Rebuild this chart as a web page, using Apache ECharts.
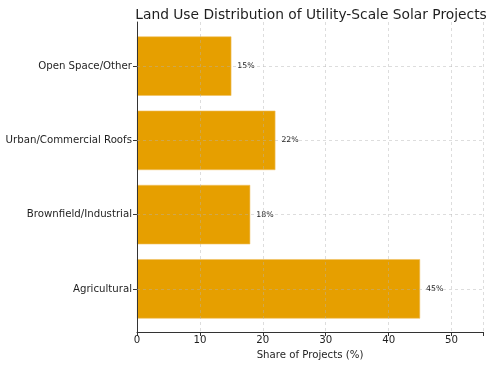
<!DOCTYPE html>
<html>
<head>
<meta charset="utf-8">
<script src="https://cdn.jsdelivr.net/npm/echarts@6/dist/echarts.min.js"></script>
<style>html,body{margin:0;padding:0;background:#fff}#c{width:492px;height:365px}</style>
</head>
<body>
<div id="c"></div>
<script>
const categories = ['Agricultural', 'Brownfield/Industrial', 'Urban/Commercial Roofs', 'Open Space/Other'];
const shares = [45, 18, 22, 15];
const xTicks = [0, 10, 20, 30, 40, 50];

const chart = echarts.init(document.getElementById('c'), null, {renderer: 'canvas'});
const font = 'DejaVu Sans';
const txt = '#1f1f1f';
chart.setOption({
  animation: false,
  title: {
    text: 'Land Use Distribution of Utility-Scale Solar Projects',
    left: 306, top: 3, textAlign: 'center',
    textStyle: {fontFamily: font, fontSize: 13.8, fontWeight: 'normal', color: txt}
  },
  grid: [
    {left: 137, right: 9, top: 22, bottom: 33, containLabel: false, outerBoundsMode: 'none'},
    {left: 137, right: 9, top: 29, bottom: 39, containLabel: false, outerBoundsMode: 'none'}
  ],
  xAxis: [
    {
      type: 'value', gridIndex: 0, min: 0, max: 55, interval: 10, z: 3,
      name: 'Share of Projects (%)', nameLocation: 'middle', nameGap: 18,
      nameTextStyle: {fontFamily: font, fontSize: 10.2, color: txt},
      axisLine: {show: true, lineStyle: {color: '#333', width: 1}},
      axisTick: {show: true, length: 4, lineStyle: {color: '#333'}},
      axisLabel: {fontFamily: font, fontSize: 10.2, color: txt, margin: 3,
        formatter: v => xTicks.includes(v) ? String(v) : ''},
      splitLine: {show: true, lineStyle: {color: 'rgba(176,176,176,0.55)', type: [3, 3], width: 0.8}}
    },
    {
      type: 'value', gridIndex: 1, min: 0, max: 55, show: false
    }
  ],
  yAxis: [
    {
      type: 'value', gridIndex: 0, min: 0, max: 1, z: 3,
      axisLine: {show: true, lineStyle: {color: '#333', width: 1}},
      axisTick: {show: false}, axisLabel: {show: false}, splitLine: {show: false}
    },
    {
      type: 'category', gridIndex: 1, data: categories,
      axisLine: {show: false},
      axisTick: {show: true, alignWithLabel: true, length: 4, lineStyle: {color: '#333'}},
      axisLabel: {fontFamily: font, fontSize: 10.2, color: txt, margin: 5},
      splitLine: {show: false}
    }
  ],
  series: [{
    type: 'bar', xAxisIndex: 1, yAxisIndex: 1, data: shares,
    barCategoryGap: '20%', z: 2,
    itemStyle: {color: '#E69F00', borderColor: '#f0c060', borderWidth: 0.6},
    label: {show: true, position: 'right', distance: 6, formatter: '{c}%',
      fontFamily: font, fontSize: 7.8, color: txt},
    markLine: {
      silent: true, symbol: 'none', z: 4,
      label: {show: false},
      lineStyle: {color: 'rgba(176,176,176,0.55)', type: [3, 3], width: 0.8},
      data: categories.map(c => ({yAxis: c}))
    }
  }]
});
</script>
</body>
</html>
